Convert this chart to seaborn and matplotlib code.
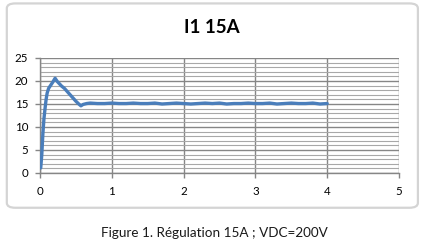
import matplotlib
matplotlib.use("Agg")
import matplotlib.pyplot as plt
from matplotlib.patches import FancyBboxPatch
from matplotlib.ticker import MultipleLocator
import seaborn as sns
import pandas as pd

# ---- data ----
time_s = [0.01, 0.025, 0.04, 0.055, 0.07, 0.085, 0.10, 0.12, 0.15, 0.18, 0.21,
          0.24, 0.27, 0.30, 0.34, 0.38, 0.42, 0.46, 0.50, 0.54, 0.57, 0.60,
          0.65, 0.70, 0.80, 0.90, 1.00, 1.10, 1.20, 1.30, 1.40, 1.50, 1.60,
          1.70, 1.80, 1.90, 2.00, 2.10, 2.20, 2.30, 2.40, 2.50, 2.60, 2.70,
          2.80, 2.90, 3.00, 3.10, 3.20, 3.30, 3.40, 3.50, 3.60, 3.70, 3.80,
          3.90, 4.00]
current_a = [1.1, 4.0, 8.5, 11.8, 14.0, 16.0, 17.4, 18.4, 19.1, 19.8, 20.6,
             19.9, 19.4, 18.9, 18.4, 17.7, 17.0, 16.3, 15.6, 15.0, 14.6, 14.9,
             15.1, 15.2, 15.1, 15.1, 15.2, 15.1, 15.1, 15.2, 15.1, 15.1, 15.2,
             15.0, 15.1, 15.2, 15.1, 15.0, 15.1, 15.2, 15.1, 15.2, 15.0, 15.1,
             15.1, 15.2, 15.1, 15.1, 15.2, 15.0, 15.1, 15.2, 15.1, 15.1, 15.2,
             15.0, 15.1]
x_ticks = [0, 1, 2, 3, 4, 5]
y_ticks = [0, 5, 10, 15, 20, 25]
title = "I1 15A"
caption = "Figure 1. Régulation 15A ; VDC=200V"

df = pd.DataFrame({"t": time_s, "i": current_a})

sns.set_style("white")
plt.rcParams["font.family"] = ["Lato", "DejaVu Sans"]

fig = plt.figure(figsize=(4.26, 2.45), dpi=100)
fig.patch.set_facecolor("white")

# chart frame
frame = FancyBboxPatch((0.016, 0.152), 0.965, 0.834,
                       boxstyle="round,pad=0,rounding_size=0.02",
                       transform=fig.transFigure, facecolor="none",
                       edgecolor="#d4d4d4", linewidth=1.6, zorder=-5)
fig.patches.append(frame)

ax = fig.add_axes([0.0939, 0.2939, 0.8427, 0.4694])
ax.set_facecolor("none")

sns.lineplot(data=df, x="t", y="i", sort=False, color="#4a7ebb",
             linewidth=2.4, ax=ax, zorder=3)

ax.set_xlim(0, 5)
ax.set_ylim(0, 25)
ax.set_xticks(x_ticks)
ax.set_yticks(y_ticks)
ax.yaxis.set_minor_locator(MultipleLocator(1))
ax.grid(which="minor", axis="y", color="#a8a8a8", linewidth=0.8)
ax.grid(which="major", axis="y", color="#868686", linewidth=1.0)
ax.grid(which="major", axis="x", color="#868686", linewidth=1.0)
ax.set_axisbelow(True)
for s in ["top", "right"]:
    ax.spines[s].set_visible(False)
for s in ["left", "bottom"]:
    ax.spines[s].set_color("#868686")
    ax.spines[s].set_linewidth(1.0)
ax.tick_params(axis="both", which="major", direction="out", length=3.5,
               width=1.0, color="#868686", labelsize=8.3, labelcolor="black",
               bottom=True, left=True)
ax.tick_params(axis="x", pad=6)
ax.tick_params(axis="y", pad=5)
ax.tick_params(axis="y", which="minor", length=0)
ax.set_xlabel("")
ax.set_ylabel("")

fig.text(0.497, 0.888, title, ha="center", va="center", fontsize=13.5,
         fontweight="bold", color="black")
fig.text(0.503, 0.049, caption, ha="center", va="center", fontsize=9.7,
         color="#1a1a1a")

fig.savefig("out.png", dpi=100, facecolor="white")
